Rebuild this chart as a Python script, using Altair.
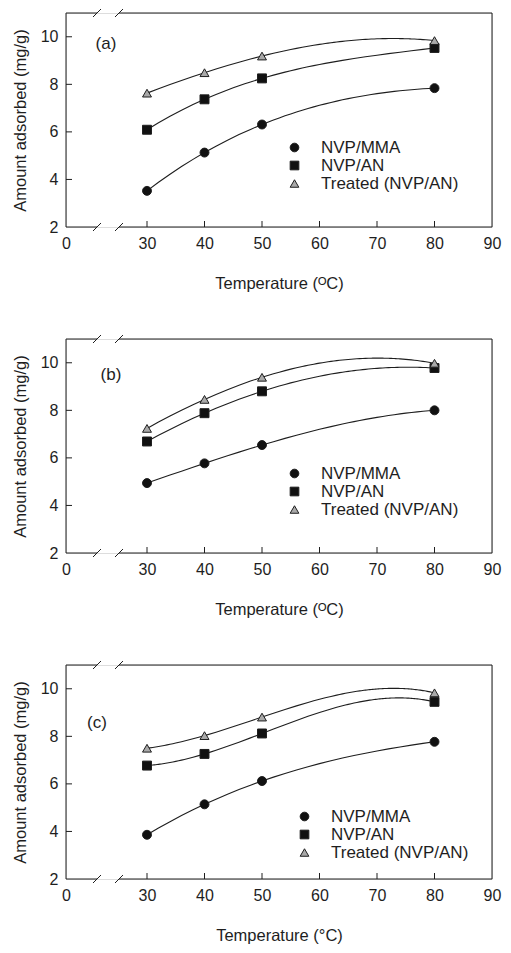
import altair as alt
import pandas as pd

# ---- data ----
temps = [30, 40, 50, 80]
series_names = ["NVP/MMA", "NVP/AN", "Treated (NVP/AN)"]

a_mma = [3.52, 5.13, 6.31, 7.84]
a_an = [6.09, 7.37, 8.25, 9.53]
a_tr = [7.63, 8.49, 9.19, 9.84]

b_mma = [4.94, 5.77, 6.54, 8.00]
b_an = [6.69, 7.88, 8.80, 9.78]
b_tr = [7.24, 8.46, 9.39, 9.98]

c_mma = [3.86, 5.14, 6.12, 7.77]
c_an = [6.77, 7.26, 8.12, 9.45]
c_tr = [7.50, 8.03, 8.81, 9.83]

panel_labels = ["(a)", "(b)", "(c)"]
x_titles = ["Temperature (\u1d3cC)", "Temperature (\u1d3cC)", "Temperature (\u00b0C)"]
x_label_values = [0, 30, 40, 50, 60, 70, 80, 90]
x_tick_values = [30, 40, 50, 60, 70, 80]
y_label_values = [2, 4, 6, 8, 10]
y_tick_values = [4, 6, 8, 10]

W, H = 426, 214
INK = "#1e1e1e"
FONT = "Liberation Sans"

xscale = alt.Scale(domain=[0, 30, 90], range=[0, 81, W])
yscale = alt.Scale(domain=[2, 11], nice=False, zero=False)

one = pd.DataFrame({"k": [0]})


def seg(x1, y1, x2, y2):
    return alt.Chart(one).mark_rule(color=INK, strokeWidth=1).encode(
        x=alt.value(x1), x2=alt.value(x2), y=alt.value(y1), y2=alt.value(y2)
    )


def panel(mma, an, tr, label, xtitle, lx, ly, tx, ty):
    rows = []
    for name, vals in zip(series_names, [mma, an, tr]):
        for t, v in zip(temps, vals):
            rows.append({"T": t, "A": v, "Series": name})
    df = pd.DataFrame(rows)

    xenc = alt.X("T:Q", scale=xscale,
                 axis=alt.Axis(values=x_label_values, title=xtitle, domain=False,
                               ticks=False, grid=False, labelFlush=False,
                               labelOverlap=False, labelPadding=8, titlePadding=24,
                               labelFontSize=16, titleFontSize=16.5,
                               titleFontWeight="normal", labelFont=FONT, titleFont=FONT,
                               labelColor=INK, titleColor=INK))
    yenc = alt.Y("A:Q", scale=yscale,
                 axis=alt.Axis(values=y_label_values, title="Amount adsorbed (mg/g)",
                               domain=False, ticks=False, grid=False, labelPadding=8,
                               titlePadding=12, labelFontSize=16, titleFontSize=16.5,
                               titleFontWeight="normal", labelFont=FONT, titleFont=FONT,
                               labelColor=INK, titleColor=INK))

    curves = alt.Chart(df).transform_regression(
        "T", "A", groupby=["Series"], method="poly", order=3, extent=[30, 80]
    ).mark_line(color=INK, strokeWidth=1.1).encode(
        x=alt.X("T:Q", scale=xscale), y=alt.Y("A:Q", scale=yscale), detail="Series:N"
    )

    legend = alt.Legend(title=None, orient="none", legendX=lx, legendY=ly,
                        labelFontSize=17, labelFont=FONT, labelColor=INK,
                        symbolStrokeWidth=1, symbolSize=75,
                        labelOffset=18, rowPadding=0, padding=0)
    points = alt.Chart(df).mark_point(filled=True, size=80, strokeWidth=1,
                                      opacity=1).encode(
        x=xenc, y=yenc,
        fill=alt.Fill("Series:N", scale=alt.Scale(domain=series_names,
                                                  range=["#111111", "#111111", "#a9a9a9"]),
                      legend=legend),
        stroke=alt.Stroke("Series:N", scale=alt.Scale(domain=series_names,
                                                      range=[INK, INK, INK]),
                          legend=legend),
        shape=alt.Shape("Series:N", scale=alt.Scale(domain=series_names,
                                                    range=["circle", "square", "triangle-up"]),
                        legend=legend),
    )

    xt = alt.Chart(pd.DataFrame({"T": x_tick_values})).mark_rule(color=INK).encode(
        x=alt.X("T:Q", scale=xscale), y=alt.value(H), y2=alt.value(H - 6))
    yt = alt.Chart(pd.DataFrame({"A": y_tick_values})).mark_rule(color=INK).encode(
        y=alt.Y("A:Q", scale=yscale), x=alt.value(0), x2=alt.value(6))

    frame = [
        seg(0, 0, 0, H), seg(W, 0, W, H),
        seg(0, H, 31, H), seg(53, H, W, H),
        seg(0, 0, 31, 0), seg(53, 0, W, 0),
        seg(27, H + 4, 35, H - 4), seg(49, H + 4, 57, H - 4),
        seg(27, 4, 35, -4), seg(49, 4, 57, -4),
    ]

    txt = alt.Chart(one).mark_text(fontSize=17, font=FONT, color=INK,
                                   align="center", baseline="middle").encode(
        x=alt.value(tx), y=alt.value(ty), text=alt.value(label))

    return alt.layer(*frame, xt, yt, curves, points, txt).properties(width=W, height=H)


pa = panel(a_mma, a_an, a_tr, panel_labels[0], x_titles[0], 220, 126, 40, 31)
pb = panel(b_mma, b_an, b_tr, panel_labels[1], x_titles[1], 220, 126, 45, 36)
pc = panel(c_mma, c_an, c_tr, panel_labels[2], x_titles[2], 230, 143, 31, 58)

chart = alt.vconcat(pa, pb, pc, spacing=42).resolve_scale(
    fill="independent", shape="independent", stroke="independent"
).properties(
    padding={"left": 3, "top": 0, "right": 0, "bottom": 0}
).configure_view(stroke=None).configure(background="white")

chart.save("out.html", embed_options={"renderer": "svg", "actions": False})
